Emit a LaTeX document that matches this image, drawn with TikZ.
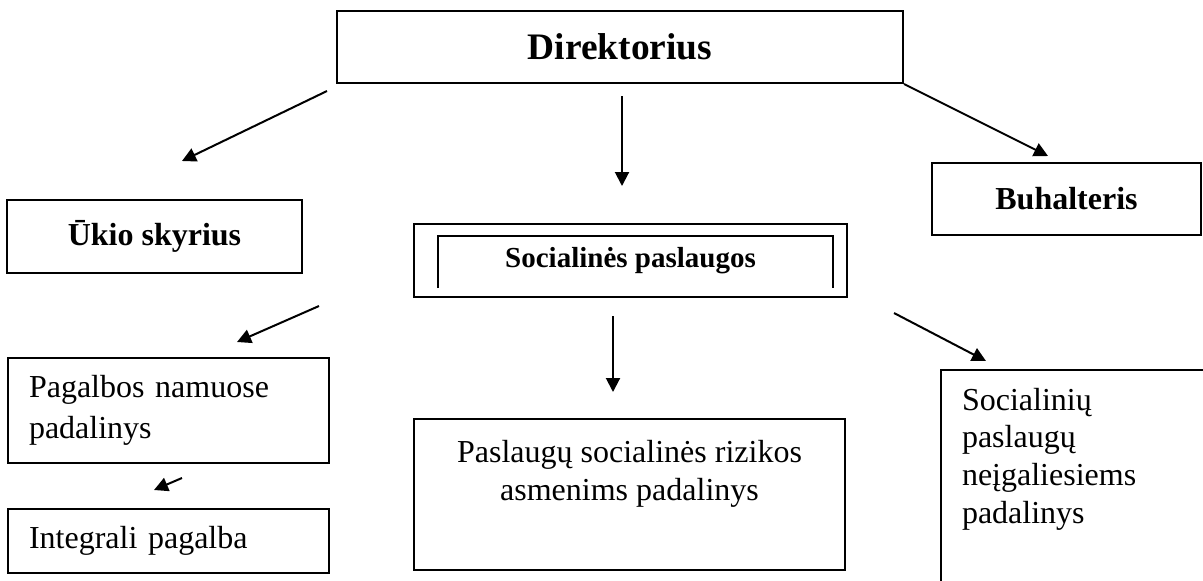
\documentclass[tikz,border=0pt]{standalone}
\usepackage{fontspec}
\setmainfont{Liberation Serif}
\usetikzlibrary{arrows.meta,positioning}
\begin{document}
\begin{tikzpicture}[x=0.5pt, y=-0.5pt, line width=1pt, >={Triangle[length=7pt,width=7pt]},
  main/.style = {draw, rectangle, inner sep=0pt},
  head/.style = {font=\bfseries\fontsize{16}{19}\selectfont},
  body/.style = {font=\fontsize{16}{19}\selectfont}]
\useasboundingbox (0,0) rectangle (1203,580);

\node[main, head, font=\bfseries\fontsize{18.7}{22}\selectfont, minimum width=283pt, minimum height=36pt] (1) at (620,47) {Direktorius};
\node[main, head, minimum width=147.5pt, minimum height=36.5pt] (2) at (154.5,236.5) {Ūkio skyrius};
\node[main, head, font=\bfseries\fontsize{14.5}{17}\selectfont, minimum width=216.5pt, minimum height=36.5pt] (3) at (630.5,260.5) {Socialinės paslaugos};
\node[main, head, minimum width=134.5pt, minimum height=36pt] (4) at (1066.5,199) {Buhalteris};
\node[main, body, font=\fontsize{16}{20.5}\selectfont, minimum width=160.5pt, minimum height=52.5pt, text width=139.5pt, inner xsep=10.5pt, align=left] (5) at (168.5,410.5) {Pagalbos namuose\\padalinys};
\node[main, body, minimum width=160.5pt, minimum height=32pt, text width=139.5pt, inner xsep=10.5pt, align=left] (6) at (168.5,541) {Integrali pagalba};
\node[main, minimum width=215.5pt, minimum height=75.5pt] (7) at (629.5,494.5) {};
\node[body, align=center, inner sep=0pt, below=10.5pt of 7.north] (7a) {Paslaugų socialinės rizikos\\asmenims padalinys};
\node[main, minimum width=150pt, minimum height=120pt] (8) at (1091,490) {};
\node[body, font=\fontsize{16}{18.85}\selectfont, align=left, inner sep=0pt, below right=9pt and 10.5pt of 8.north west] (8a) {Socialinių\\paslaugų\\neįgaliesiems\\padalinys};

\draw ([shift={(25,-10)}]3.south west) |- ([shift={(-15,13)}]3.north east) -- ([shift={(-15,-10)}]3.south east);

\draw[->] ([shift={(-9,7)}]1.south west) -- ([shift={(27.5,-38)}]2.north);
\draw[->] ([shift={(2,12)}]1.south) -- ([shift={(-8.5,-37)}]3.north);
\draw[->] (1.south east) -- ([shift={(-18.5,-6)}]4.north);
\draw[->] ([shift={(-94,8)}]3.south west) -- ([shift={(68.5,-15)}]5.north);
\draw[->] ([shift={(-17.5,18)}]3.south) -- ([shift={(-16.5,-26)}]7.north);
\draw[->] ([shift={(46,15)}]3.south east) -- ([shift={(46,-8)}]8.north west);
\draw[->] ([shift={(13.5,14)}]5.south) -- ([shift={(-14.5,-18)}]6.north);
\end{tikzpicture}
\end{document}
